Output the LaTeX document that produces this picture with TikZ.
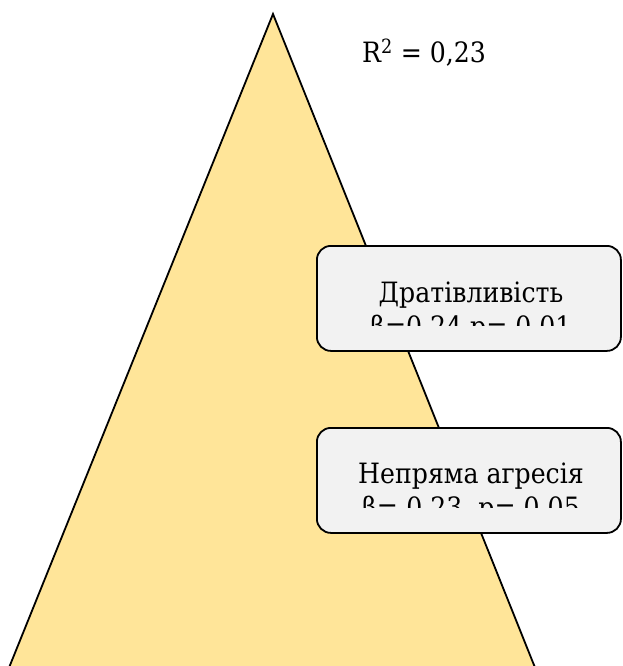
\documentclass[tikz,border=0pt]{standalone}
\usepackage{fontspec}
\newfontfamily\serifface{DejaVu Serif Condensed}
\usetikzlibrary{positioning}
\definecolor{pyrgold}{HTML}{FFE599}
\definecolor{boxgrey}{HTML}{F2F2F2}

\begin{document}
\begin{tikzpicture}[x=1pt, y=-1pt,
    factor/.style={rectangle, rounded corners=14pt, draw=black, line width=1.8pt, fill=boxgrey,
                   minimum width=304pt, minimum height=105pt, anchor=north west},
    txt/.style={font=\serifface\fontsize{28}{34}\selectfont, inner sep=0pt, anchor=base}
]
\useasboundingbox (0,0) rectangle (622,666);
\clip (0,0) rectangle (622,666);

% pyramid
\filldraw[fill=pyrgold, draw=black, line width=1.8pt] (273,14) -- (544,690) -- (0,690) -- cycle;
\node[txt] (rsq) at (424,63) {R\textsuperscript{2} = 0,23};

% predictors
\node[factor] (irrit) at (316,245) {};
\node[factor] (indirect) at (316,427) {};

\begin{scope}
  \clip (316,245) rectangle (620,325);
  \node[txt] (irrit-name) at (471,302) {Дратівливість};
  \node[txt] (irrit-stat) at (471,336) {β=0,24 p= 0,01};
\end{scope}
\begin{scope}
  \clip (316,427) rectangle (620,507);
  \node[txt] (indirect-name) at (471,483) {Непряма агресія};
  \node[txt] (indirect-stat) at (471,517) {β=-0,23, p= 0,05};
\end{scope}
\end{tikzpicture}
\end{document}
